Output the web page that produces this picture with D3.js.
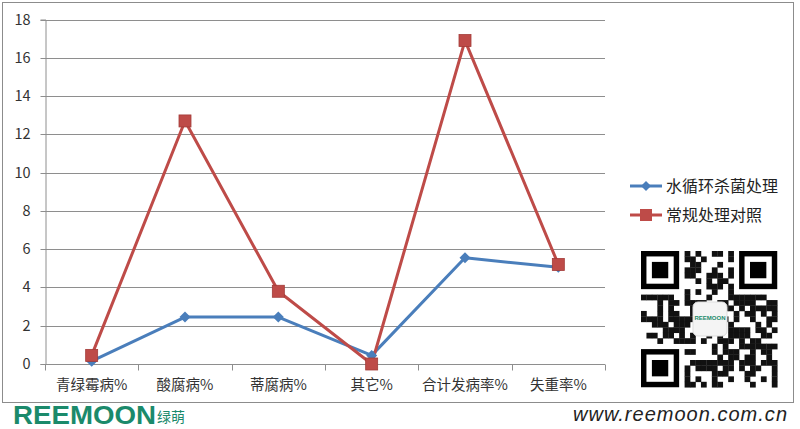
<!DOCTYPE html>
<html><head><meta charset="utf-8">
<script src="https://cdn.jsdelivr.net/npm/d3@7"></script>
<style>html,body{margin:0;padding:0;background:#fff;}svg{display:block;}</style>
</head><body>
<svg id="c" width="800" height="429"></svg>
<script>
const categories = ["青绿霉病%", "酸腐病%", "蒂腐病%", "其它%", "合计发病率%", "失重率%"];
const seriesNames = ["水循环杀菌处理", "常规处理对照"];
const waterTreatment = [0.15, 2.45, 2.45, 0.45, 5.55, 5.05];
const controlTreatment = [0.45, 12.7, 3.8, 0.0, 16.9, 5.2];
const yTicks = [0, 2, 4, 6, 8, 10, 12, 14, 16, 18];
const colors = ["#4a7ebb", "#be4b48"];

const svg = d3.select("#c");
const font = "'Noto Sans CJK SC','Microsoft YaHei',sans-serif";

// outer border
svg.append("rect").attr("x", 2.5).attr("y", 2.5).attr("width", 791).attr("height", 400)
  .attr("fill", "#fff").attr("stroke", "#8c8c8c").attr("stroke-width", 1);

const x = d3.scaleBand().domain(categories).range([45, 605]);
const y = d3.scaleLinear().domain([0, 18]).range([364, 19.5]);

// gridlines
svg.append("g").selectAll("line").data(yTicks.filter(d => d > 0)).join("line")
  .attr("x1", 45).attr("x2", 605)
  .attr("y1", d => Math.round(y(d)) + 0.5).attr("y2", d => Math.round(y(d)) + 0.5)
  .attr("stroke", "#8e8e8e").attr("stroke-width", 1);

// y axis
const yAxis = d3.axisLeft(y).tickValues(yTicks).tickSize(5).tickPadding(10).tickFormat(d3.format("d"));
const gy = svg.append("g").attr("transform", "translate(45.5,0)").call(yAxis);
gy.select(".domain").attr("stroke", "#8e8e8e");
gy.selectAll(".tick line").attr("stroke", "#8e8e8e");
gy.selectAll(".tick text").attr("font-family", font).attr("font-size", 14.5).attr("fill", "#333");
gy.selectAll(".tick").attr("transform", d => `translate(0,${Math.round(y(d)) + 0.5})`);

// x axis
const gx = svg.append("g").attr("transform", `translate(0,${Math.round(y(0)) + 0.5})`);
gx.append("line").attr("x1", 45).attr("x2", 605).attr("stroke", "#8e8e8e");
const bounds = categories.map(c => x(c)).concat([x.range()[1]]);
gx.selectAll("line.tk").data(bounds).join("line").attr("class", "tk")
  .attr("x1", d => Math.round(d) + 0.5).attr("x2", d => Math.round(d) + 0.5)
  .attr("y1", 0).attr("y2", 6).attr("stroke", "#8e8e8e");
gx.selectAll("text").data(categories).join("text")
  .attr("x", d => x(d) + x.bandwidth() / 2).attr("y", 25)
  .attr("text-anchor", "middle").attr("font-family", font).attr("font-size", 14.5).attr("fill", "#333")
  .text(d => d);

const cx = c => x(c) + x.bandwidth() / 2;
const line = d3.line().x((d, i) => cx(categories[i])).y(d => y(d));

[waterTreatment, controlTreatment].forEach((s, k) => {
  svg.append("path").datum(s).attr("d", line).attr("fill", "none")
    .attr("stroke", colors[k]).attr("stroke-width", 3).attr("stroke-linejoin", "round");
});
// markers
const diamond = (px, py, r) => `M${px},${py - r}L${px + r},${py}L${px},${py + r}L${px - r},${py}Z`;
svg.append("g").selectAll("path").data(waterTreatment).join("path")
  .attr("d", (d, i) => diamond(cx(categories[i]), y(d), 5.5)).attr("fill", colors[0]);
svg.append("g").selectAll("rect").data(controlTreatment).join("rect")
  .attr("x", (d, i) => cx(categories[i]) - 6).attr("y", d => y(d) - 6)
  .attr("width", 12).attr("height", 12).attr("fill", colors[1])
  .attr("stroke", "#a33b38").attr("stroke-width", 0.8);

// legend
const lg = svg.append("g");
seriesNames.forEach((n, k) => {
  const ly = 186 + k * 29;
  lg.append("line").attr("x1", 630).attr("x2", 662).attr("y1", ly).attr("y2", ly)
    .attr("stroke", colors[k]).attr("stroke-width", 3);
  if (k === 0) lg.append("path").attr("d", diamond(646, ly, 5)).attr("fill", colors[0]);
  else lg.append("rect").attr("x", 640).attr("y", ly - 6).attr("width", 12).attr("height", 12).attr("fill", colors[1]);
  lg.append("text").attr("x", 666).attr("y", ly + 6).attr("font-family", font).attr("font-size", 16)
    .attr("fill", "#222").text(n);
});

// decorative QR-like block
const qr = svg.append("g").attr("transform", "translate(641,251)");
const N = 25, m = 5.45;
function finder(ix, iy) {
  qr.append("rect").attr("x", ix * m).attr("y", iy * m).attr("width", 7 * m).attr("height", 7 * m).attr("fill", "#000");
  qr.append("rect").attr("x", (ix + 1) * m).attr("y", (iy + 1) * m).attr("width", 5 * m).attr("height", 5 * m).attr("fill", "#fff");
  qr.append("rect").attr("x", (ix + 2) * m).attr("y", (iy + 2) * m).attr("width", 3 * m).attr("height", 3 * m).attr("fill", "#000");
}
const inFinder = (i, j) => (i < 8 && j < 8) || (i >= N - 8 && j < 8) || (i < 8 && j >= N - 8);
function mix(a) {
  a = (a ^ 61) ^ (a >>> 16); a = Math.imul(a, 9); a = a ^ (a >>> 4);
  a = Math.imul(a, 0x27d4eb2d); a = a ^ (a >>> 15); return a >>> 0;
}
for (let i = 0; i < N; i++) for (let j = 0; j < N; j++) {
  if (inFinder(i, j)) continue;
  const h = mix(i * 131 + j * 7919 + 17);
  if (h % 100 < 52) qr.append("rect").attr("x", i * m).attr("y", j * m).attr("width", m + 0.3).attr("height", m + 0.3).attr("fill", "#111");
}
finder(0, 0); finder(N - 7, 0); finder(0, N - 7);
qr.append("rect").attr("x", 52).attr("y", 51).attr("width", 34).attr("height", 34).attr("rx", 5)
  .attr("fill", "#f4f4f4").attr("stroke", "#ddd");
qr.append("text").attr("x", 69).attr("y", 69).attr("text-anchor", "middle").attr("font-family", "Arial,sans-serif")
  .attr("font-weight", "bold").attr("font-size", 6).attr("fill", "#1b8a6b").text("REEMOON");

// logo
svg.append("text").attr("x", 13).attr("y", 424).attr("font-family", "'Liberation Sans',Arial,sans-serif")
  .attr("font-weight", "bold").attr("font-size", 25).attr("fill", "#1b8a6b").attr("textLength", 143)
  .attr("lengthAdjust", "spacingAndGlyphs").text("REEMOON");
svg.append("text").attr("x", 157).attr("y", 422).attr("font-family", font).attr("font-size", 14)
  .attr("fill", "#1b8a6b").text("绿萌");

// website
svg.append("text").attr("x", 787).attr("y", 421).attr("text-anchor", "end")
  .attr("font-family", "'Liberation Sans',Arial,sans-serif").attr("font-style", "italic")
  .attr("font-size", 20).attr("fill", "#222").attr("textLength", 214)
  .attr("lengthAdjust", "spacing").text("www.reemoon.com.cn");
</script>
</body></html>
